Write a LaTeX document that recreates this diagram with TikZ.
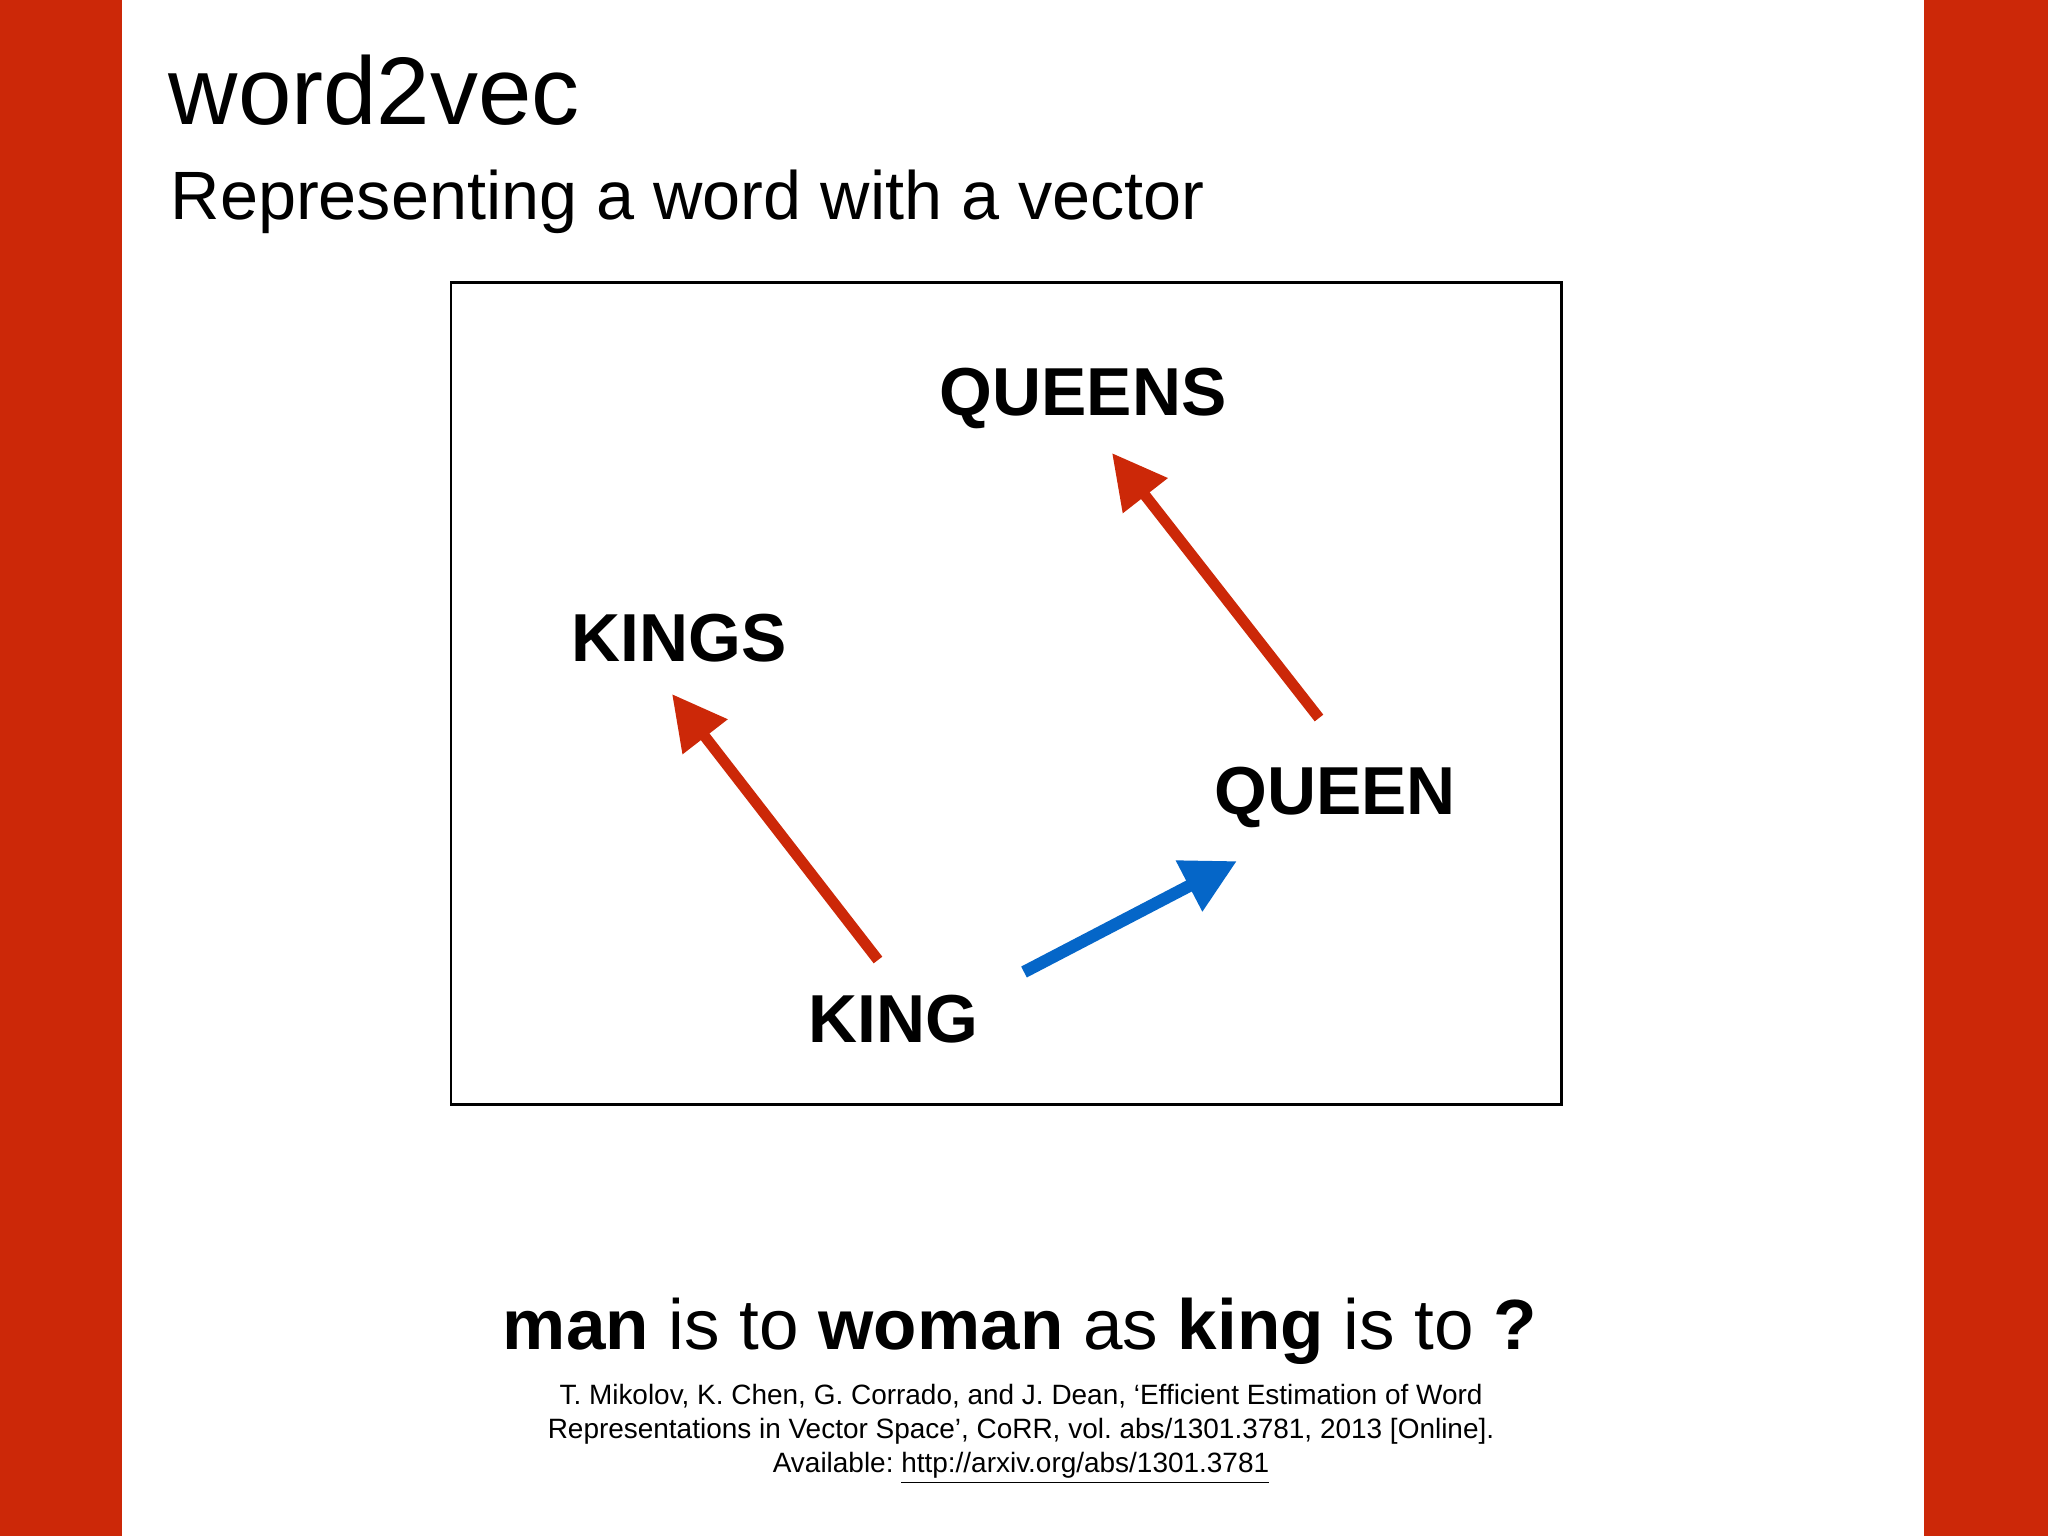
\documentclass[tikz,border=0pt]{standalone}
\usepackage{fontspec}
\setmainfont{Liberation Sans}
\usetikzlibrary{arrows.meta}
\definecolor{slidered}{RGB}{204,40,8}
\definecolor{vecblue}{RGB}{5,102,200}
\frenchspacing
\tikzset{
    word/.style={font=\fontsize{19.3}{22}\selectfont\bfseries,inner sep=0pt,anchor=base},
    vecarrow/.style={line width=3.1pt,-{Triangle[length=15.4pt,width=15.4pt]}},
    citeline/.style={anchor=base,inner sep=0pt,font=\fontsize{7.95}{9}\selectfont},
}
\begin{document}
\begin{tikzpicture}[x=0.01cm,y=-0.01cm]
        \useasboundingbox (0,0) rectangle (2048,1536);
        %% side bars
        \fill[slidered] (0,0) rectangle (122,1536);
        \fill[slidered] (1924,0) rectangle (2048,1536);
        %% heading
        \node[anchor=base west,inner sep=0pt,font=\fontsize{27.3}{30}\selectfont] (title) at (168,124) {word2vec};
        \node[anchor=base west,inner sep=0pt,font=\fontsize{19.45}{23}\selectfont] (subtitle) at (170,219) {Representing a word with a vector};
        %% frame
        \draw[line width=0.85pt] (451,282) rectangle (1561,1104);
        %% words
        \node[word] (queens) at (1083,415) {QUEENS};
        \node[word] (kings) at (679,661) {KINGS};
        \node[word] (queen) at (1335,814) {QUEEN};
        \node[word] (king) at (893,1042) {KING};
        %% vector ends
        \coordinate (king-up) at (878,960);
        \coordinate (kings-in) at (672,694);
        \coordinate (queen-up) at (1319,718);
        \coordinate (queens-in) at (1112,453);
        \coordinate (king-right) at (1024,972);
        \coordinate (queen-in) at (1237,861);
        %% vectors
        \draw[vecarrow,slidered] (king-up) -- (kings-in);
        \draw[vecarrow,slidered] (queen-up) -- (queens-in);
        \draw[vecarrow,vecblue,line width=3.5pt] (king-right) -- (queen-in);
        %% question and reference
        \node[anchor=base,inner sep=0pt,font=\fontsize{20.2}{24}\selectfont] (question) at (1020,1349)
            {\textbf{man} is to \textbf{woman} as \textbf{king} is to \textbf{?}};
        \node[citeline] (cite1) at (1021,1404)
            {T. Mikolov, K. Chen, G. Corrado, and J. Dean, ‘Efficient Estimation of Word};
        \node[citeline] (cite2) at (1021,1438)
            {Representations in Vector Space’, CoRR, vol. abs/1301.3781, 2013 [Online].};
        \node[citeline] (cite3) at (1021,1472)
            {Available: \underline{http://arxiv.org/abs/1301.3781}};
    \end{tikzpicture}
\end{document}
